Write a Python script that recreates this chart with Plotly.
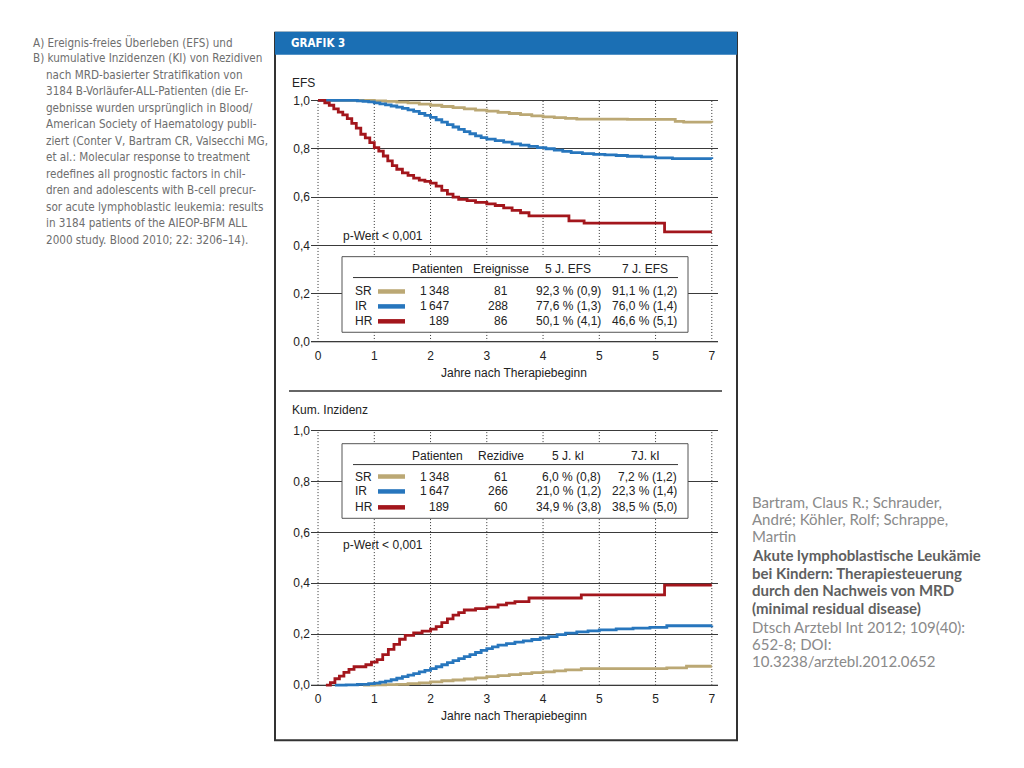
import plotly.graph_objects as go

# ---------------- data ----------------
groups = ["SR", "IR", "HR"]
colors = ["#bba874", "#2776bd", "#a3161c"]

# EFS (panel A)
efs_sr_t = [0, 1.0, 1.2, 1.4, 1.6, 1.8, 2.0, 2.2, 2.4, 2.6, 2.8, 3.0, 3.2, 3.4, 3.6, 3.8, 4.0, 4.2, 4.4, 4.6, 5.0, 5.5, 6.0, 6.35, 6.5, 7.0]
efs_sr_v = [1.0, 0.998, 0.996, 0.993, 0.99, 0.985, 0.98, 0.975, 0.97, 0.965, 0.96, 0.956, 0.951, 0.946, 0.941, 0.936, 0.932, 0.929, 0.926, 0.923, 0.923, 0.922, 0.922, 0.913, 0.91, 0.909]
efs_ir_t = [0, 0.7, 0.8, 0.9, 1.0, 1.1, 1.2, 1.3, 1.4, 1.5, 1.6, 1.7, 1.8, 1.9, 2.0, 2.1, 2.2, 2.3, 2.4, 2.5, 2.6, 2.7, 2.8, 2.9, 3.0,
            3.15, 3.3, 3.45, 3.6, 3.75, 3.9, 4.05, 4.2, 4.35, 4.5, 4.7, 4.9, 5.1, 5.3, 5.5, 5.75, 6.0, 6.3, 7.0]
efs_ir_v = [1.0, 0.998, 0.996, 0.994, 0.99, 0.986, 0.982, 0.977, 0.972, 0.967, 0.961, 0.955, 0.946, 0.938, 0.93, 0.92, 0.91, 0.9, 0.89, 0.88,
            0.871, 0.862, 0.853, 0.846, 0.84, 0.834, 0.827, 0.82, 0.815, 0.81, 0.805, 0.80, 0.794, 0.789, 0.784, 0.78, 0.777, 0.775,
            0.772, 0.769, 0.766, 0.762, 0.759, 0.758]
efs_hr_t = [0, 0.12, 0.2, 0.28, 0.36, 0.44, 0.52, 0.6, 0.68, 0.76, 0.84, 0.92, 1.0, 1.08, 1.16, 1.24, 1.32, 1.4, 1.5, 1.6, 1.7, 1.8, 1.9, 2.0,
            2.1, 2.2, 2.3, 2.4, 2.5, 2.65, 2.8, 3.0, 3.15, 3.3, 3.45, 3.6, 3.75, 4.46, 4.73, 6.16, 7.0]
efs_hr_v = [1.0, 0.99, 0.98, 0.965, 0.952, 0.94, 0.925, 0.905, 0.885, 0.86, 0.845, 0.825, 0.805, 0.79, 0.77, 0.75, 0.73, 0.715, 0.70, 0.69,
            0.678, 0.67, 0.665, 0.658, 0.645, 0.628, 0.612, 0.60, 0.59, 0.585, 0.578, 0.572, 0.565, 0.555, 0.545, 0.535, 0.522, 0.501,
            0.492, 0.456, 0.456]

# Cumulative incidence (panel B)
ki_sr_t = [0.8, 1.0, 1.2, 1.4, 1.6, 1.8, 2.0, 2.2, 2.4, 2.6, 2.8, 3.0, 3.2, 3.4, 3.6, 3.8, 4.0, 4.2, 4.4, 4.68, 5.0, 6.0, 6.2, 6.55, 7.0]
ki_sr_v = [0.0, 0.001, 0.002, 0.003, 0.006, 0.009, 0.013, 0.017, 0.02, 0.024, 0.028, 0.033, 0.037, 0.041, 0.045, 0.049, 0.052, 0.056,
           0.06, 0.065, 0.065, 0.065, 0.068, 0.074, 0.074]
ki_ir_t = [0.3, 0.5, 0.7, 0.9, 1.0, 1.1, 1.2, 1.3, 1.4, 1.5, 1.6, 1.7, 1.8, 1.9, 2.0, 2.1, 2.2, 2.3, 2.4, 2.5, 2.6, 2.7, 2.8, 2.9, 3.0,
           3.1, 3.2, 3.35, 3.5, 3.65, 3.8, 3.95, 4.1, 4.25, 4.4, 4.6, 4.8, 5.0, 5.3, 5.6, 5.9, 6.2, 7.0]
ki_ir_v = [0.0, 0.001, 0.003, 0.006, 0.008, 0.012, 0.016, 0.021, 0.027, 0.033, 0.039, 0.045, 0.052, 0.058, 0.065, 0.072, 0.08, 0.088,
           0.096, 0.104, 0.112, 0.12, 0.128, 0.136, 0.143, 0.15, 0.157, 0.163, 0.169, 0.174, 0.179, 0.185, 0.19, 0.198, 0.204, 0.209,
           0.213, 0.217, 0.221, 0.224, 0.227, 0.233, 0.234]
ki_hr_t = [0.14, 0.22, 0.3, 0.38, 0.46, 0.55, 0.64, 0.85, 0.95, 1.05, 1.15, 1.25, 1.35, 1.45, 1.55, 1.7, 1.85, 2.0, 2.1, 2.2, 2.3, 2.4,
           2.5, 2.6, 2.8, 3.0, 3.2, 3.35, 3.5, 3.75, 4.68, 6.16, 7.0]
ki_hr_v = [0.0, 0.01, 0.025, 0.035, 0.05, 0.062, 0.072, 0.08, 0.09, 0.1, 0.12, 0.14, 0.16, 0.18, 0.195, 0.205, 0.212, 0.22, 0.23, 0.245,
           0.26, 0.275, 0.285, 0.295, 0.30, 0.306, 0.315, 0.322, 0.328, 0.342, 0.354, 0.393, 0.393]

# table values
patients = [1348, 1647, 189]
events = [81, 288, 86]
efs5 = [92.3, 77.6, 50.1]
efs5_se = [0.9, 1.3, 4.1]
efs7 = [91.1, 76.0, 46.6]
efs7_se = [1.2, 1.4, 5.1]
relapses = [61, 266, 60]
ki5 = [6.0, 21.0, 34.9]
ki5_se = [0.8, 1.2, 3.8]
ki7 = [7.2, 22.3, 38.5]
ki7_se = [1.2, 1.4, 5.0]

x_ticks = [0, 1, 2, 3, 4, 5, 6, 7]
x_ticktext = ["0", "1", "2", "3", "4", "5", "5", "7"]
y_ticks = [0, 0.2, 0.4, 0.6, 0.8, 1.0]
y_ticktext = ["0,0", "0,2", "0,4", "0,6", "0,8", "1,0"]

left_lines = [
    ("A) Ereignis-freies Überleben (EFS) und", 0),
    ("B) kumulative Inzidenzen (KI) von Rezidiven", 0),
    ("nach MRD-basierter Stratifikation von", 1),
    ("3184 B-Vorläufer-ALL-Patienten (die Er-", 1),
    ("gebnisse wurden ursprünglich in Blood/", 1),
    ("American Society of Haematology publi-", 1),
    ("ziert (Conter V, Bartram CR, Valsecchi MG,", 1),
    ("et al.: Molecular response to treatment", 1),
    ("redefines all prognostic factors in chil-", 1),
    ("dren and adolescents with B-cell precur-", 1),
    ("sor acute lymphoblastic leukemia: results", 1),
    ("in 3184 patients of the AIEOP-BFM ALL", 1),
    ("2000 study. Blood 2010; 22: 3206–14).", 1),
]
right_lines = [
    ("Bartram, Claus R.; Schrauder,", False),
    ("André; Köhler, Rolf; Schrappe,", False),
    ("Martin", False),
    ("Akute lymphoblastische Leukämie", True),
    ("bei Kindern: Therapiesteuerung", True),
    ("durch den Nachweis von MRD", True),
    ("(minimal residual disease)", True),
    ("Dtsch Arztebl Int 2012; 109(40):", False),
    ("652-8; DOI:", False),
    ("10.3238/arztebl.2012.0652", False),
]

# ---------------- helpers ----------------
W, H = 1024, 768
def px(x):
    return x / W
def py(y):
    return 1 - y / H

def de(v):
    return f"{v:.1f}".replace(".", ",")

def thou(n):
    return f"{n:,}".replace(",", "\u2009")

FONT = "Liberation Sans, Arial, sans-serif"
NARROW = "DejaVu Sans Condensed, sans-serif"
TXT = "#222222"

fig = go.Figure()

efs_series = [(efs_sr_t, efs_sr_v), (efs_ir_t, efs_ir_v), (efs_hr_t, efs_hr_v)]
ki_series = [(ki_sr_t, ki_sr_v), (ki_ir_t, ki_ir_v), (ki_hr_t, ki_hr_v)]
for (t, v), c, g in zip(efs_series, colors, groups):
    fig.add_trace(go.Scatter(x=t, y=v, mode="lines", line=dict(color=c, width=2.8, shape="hv"),
                             name=g, xaxis="x", yaxis="y", showlegend=False, hoverinfo="skip"))
for (t, v), c, g in zip(ki_series, colors, groups):
    fig.add_trace(go.Scatter(x=t, y=v, mode="lines", line=dict(color=c, width=2.8, shape="hv"),
                             name=g, xaxis="x2", yaxis="y2", showlegend=False, hoverinfo="skip"))

xdom = [px(311), px(718)]
xr = [-0.125, 7.11]
top_dom = [py(346.6), py(94.1)]
bot_dom = [py(691.8), py(425.6)]
yr = [-0.02, 1.02]

ax_common = dict(range=xr, tickvals=x_ticks, ticktext=x_ticktext, showgrid=False, zeroline=False,
                 showline=False, ticks="", tickfont=dict(family=FONT, size=12, color=TXT), fixedrange=True)
ay_common = dict(range=yr, tickvals=y_ticks, ticktext=y_ticktext, showgrid=True, gridcolor="#3a3a3a",
                 gridwidth=1, zeroline=False, showline=False, ticks="",
                 tickfont=dict(family=FONT, size=12, color=TXT), fixedrange=True)

fig.update_layout(
    width=W, height=H, margin=dict(l=0, r=0, t=0, b=0),
    paper_bgcolor="white", plot_bgcolor="rgba(0,0,0,0)",
    xaxis=dict(domain=xdom, anchor="y", **ax_common),
    yaxis=dict(domain=top_dom, anchor="x", **ay_common),
    xaxis2=dict(domain=xdom, anchor="y2", **ax_common),
    yaxis2=dict(domain=bot_dom, anchor="x2", **ay_common),
)

shapes = []
# dotted vertical grid lines
for xa, ya in (("x", "y"), ("x2", "y2")):
    for t in x_ticks:
        shapes.append(dict(type="line", xref=xa, yref=ya, x0=t, x1=t, y0=0, y1=1,
                           line=dict(color="#333333", width=1, dash="1px,2px"), layer="below"))
    shapes.append(dict(type="line", xref=xa, yref=ya, x0=xr[0], x1=xr[1], y0=0, y1=0,
                       line=dict(color="#8a8a8a", width=1.2), layer="below"))

# chart frame and header
shapes.append(dict(type="rect", xref="paper", yref="paper", x0=px(275), x1=px(737), y0=py(742), y1=py(31),
                   line=dict(color="#333333", width=2), fillcolor="rgba(0,0,0,0)"))
shapes.append(dict(type="rect", xref="paper", yref="paper", x0=px(275), x1=px(737), y0=py(53), y1=py(30),
                   line=dict(width=0), fillcolor="#1b6fb4"))
# separator between panels
shapes.append(dict(type="line", xref="paper", yref="paper", x0=px(289), x1=px(722), y0=py(391), y1=py(391),
                   line=dict(color="#333333", width=1.5)))

annotations = []
def text(x, y, s, size=12, color=TXT, xanchor="left", family=FONT, bold=False):
    if bold:
        s = "<b>" + s + "</b>"
    annotations.append(dict(x=px(x), y=py(y), xref="paper", yref="paper", text=s, showarrow=False,
                            xanchor=xanchor, yanchor="middle", font=dict(family=family, size=size, color=color)))

text(289, 41, "GRAFIK 3", size=11.5, color="white", family=NARROW, bold=True)
text(290, 81, "EFS")
text(290, 410, "Kum. Inzidenz")
text(514, 373, "Jahre nach Therapiebeginn", xanchor="center")
text(514, 718, "Jahre nach Therapiebeginn", xanchor="center")
text(341, 235, "p-Wert < 0,001")
text(341, 546, "p-Wert < 0,001")

def table(box_top, box_bot, head_y, line_y, rows_y, headers, col2, col3, col4):
    shapes.append(dict(type="rect", xref="paper", yref="paper", x0=px(342), x1=px(688), y0=py(box_bot), y1=py(box_top),
                       line=dict(color="#555555", width=1), fillcolor="white"))
    shapes.append(dict(type="line", xref="paper", yref="paper", x0=px(353), x1=px(678), y0=py(line_y), y1=py(line_y),
                       line=dict(color="#333333", width=1)))
    for hx, h in zip([437, 501, 568, 645], headers):
        text(hx, head_y, h, xanchor="center")
    for i, g in enumerate(groups):
        yy = rows_y[i]
        text(353, yy, g)
        shapes.append(dict(type="line", xref="paper", yref="paper", x0=px(378), x1=px(405), y0=py(yy), y1=py(yy),
                           line=dict(color=colors[i], width=4.5)))
        text(451, yy, thou(patients[i]), xanchor="right")
        text(510, yy, str(col2[i]), xanchor="right")
        text(603, yy, col3[i], xanchor="right")
        text(679, yy, col4[i], xanchor="right")

table(256, 332, 268, 277, [291, 306, 321],
      ["Patienten", "Ereignisse", "5 J. EFS", "7 J. EFS"], events,
      [f"{de(a)} % ({de(b)})" for a, b in zip(efs5, efs5_se)],
      [f"{de(a)} % ({de(b)})" for a, b in zip(efs7, efs7_se)])
table(444, 519, 456, 465, [477, 492, 508],
      ["Patienten", "Rezidive", "5 J. kI", "7J. kI"], relapses,
      [f"{de(a)} % ({de(b)})" for a, b in zip(ki5, ki5_se)],
      [f"{de(a)} % ({de(b)})" for a, b in zip(ki7, ki7_se)])

# left caption
for i, (s, ind) in enumerate(left_lines):
    text(31 if ind == 0 else 44, 40 + i * 16.6, s, size=11.6, color="#6e6e6e", family=NARROW)

# right citation
ry = [503, 520, 537, 556, 574, 591, 609, 628, 645, 662]
for (s, b), yy in zip(right_lines, ry):
    text(750, yy, s, size=15, color="#5f5f5f" if b else "#8a8a8a", family="Lato, sans-serif", bold=b)

fig.update_layout(shapes=shapes, annotations=annotations)

fig.write_html("out.html", config={"displayModeBar": False},
               post_script="document.body.style.margin='0';document.body.style.overflow='hidden';")
